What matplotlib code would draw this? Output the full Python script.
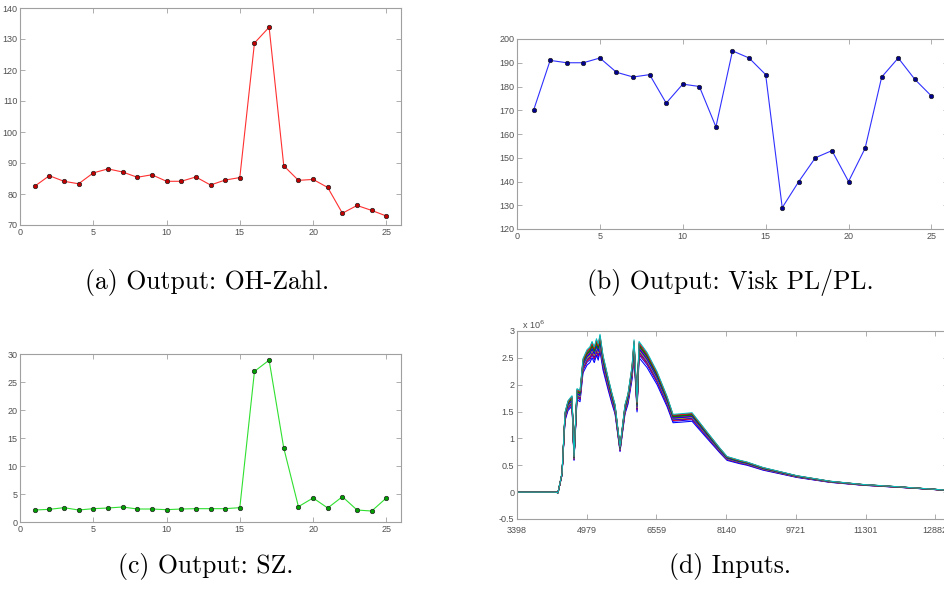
import matplotlib
matplotlib.use("Agg")
import matplotlib.pyplot as plt
import numpy as np

# --- quality outputs per sample (25 samples) ---
sample = np.arange(1, 26)

oh_zahl = [82.5, 85.9, 84.1, 83.3, 86.8, 88.1, 87.1, 85.4, 86.2, 84.1,
           84.1, 85.5, 82.9, 84.5, 85.3, 128.7, 133.8, 89.1, 84.4, 84.7,
           82.1, 73.8, 76.3, 74.7, 72.9]

visk = [170, 191, 190, 190, 192, 186, 184, 185, 173, 181,
        180, 163, 195, 192, 185, 129, 140, 150, 153, 140,
        154, 184, 192, 183, 176]

sz = [2.14, 2.26, 2.56, 2.14, 2.38, 2.5, 2.68, 2.32, 2.32, 2.2,
      2.32, 2.38, 2.38, 2.38, 2.56, 26.9, 28.9, 13.2, 2.74, 4.29,
      2.5, 4.52, 2.14, 1.96, 4.29]

# --- input spectra: mean profile (x 10^6) and per-sample gain ---
wavenumber = [3398, 4260, 4328, 4419, 4487, 4555, 4645, 4691, 4759, 4827,
              4895, 4986, 5050, 5100, 5150, 5200, 5240, 5280, 5348, 5462,
              5553, 5621, 5734, 5847, 5915, 6006, 6052, 6120, 6165, 6346,
              6573, 6800, 6936, 7095, 7367, 7707, 8002, 8161, 8456, 8614,
              8977, 9748, 10497, 11245, 12016, 13170]
intensity = [0.0, 0.0, -0.01, 0.35, 1.46, 1.67, 1.76, 0.65, 1.89, 1.85,
             2.44, 2.6, 2.65, 2.75, 2.65, 2.8, 2.7, 2.88, 2.5, 2.1,
             1.8, 1.6, 0.83, 1.6, 1.8, 2.3, 2.78, 1.64, 2.75, 2.55,
             2.2, 1.75, 1.42, 1.43, 1.45, 1.1, 0.8, 0.65, 0.58, 0.55,
             0.45, 0.3, 0.2, 0.14, 0.1, 0.035]
sample_gain = [0.91, 0.97, 0.95, 0.99, 0.96, 0.98, 0.97, 0.93, 0.99, 0.94,
               1.0, 0.98, 0.96, 0.98, 0.95, 0.99, 0.97, 1.01, 0.98, 0.96,
               1.0, 0.97, 0.99, 1.01, 1.02]
spec_ticks = [3398, 4979, 6559, 8140, 9721, 11301, 12882]

# old MATLAB colour order
matlab_colors = [(0, 0, 1), (0, 0.5, 0), (1, 0, 0), (0, 0.75, 0.75),
                 (0.75, 0, 0.75), (0.75, 0.75, 0), (0.25, 0.25, 0.25)]

W, H = 945, 595
frame_col = "#a0a0a0"
tick_col = "#505050"


def px_axes(fig, left, top, right, bottom):
    return fig.add_axes([left / W, 1 - bottom / H, (right - left) / W, (bottom - top) / H])


def matlab_style(ax):
    for s in ax.spines.values():
        s.set_color(frame_col)
        s.set_linewidth(0.8)
    ax.tick_params(direction="in", length=3.5, width=0.6, color=frame_col,
                   labelsize=6.5, labelcolor=tick_col, top=True, right=True, pad=2)
    for lab in ax.get_xticklabels() + ax.get_yticklabels():
        lab.set_family("Liberation Sans")


def series_panel(ax, y, line_col, mark_col, ylim, yticks):
    ax.plot(sample, y, "-", color=line_col, lw=0.8, zorder=2)
    ax.plot(sample, y, "o", ms=3.2, mfc=mark_col, mec="#202020", mew=0.5, zorder=3)
    ax.set_xlim(0, 26)
    ax.set_ylim(*ylim)
    ax.set_xticks([0, 5, 10, 15, 20, 25])
    ax.set_yticks(yticks)
    matlab_style(ax)


fig = plt.figure(figsize=(W / 100, H / 100), dpi=100)

ax_a = px_axes(fig, 20, 8, 401, 225)
series_panel(ax_a, oh_zahl, "#ff3030", "#c00000", (70, 140), range(70, 141, 10))

ax_b = px_axes(fig, 517, 39, 948, 229)
series_panel(ax_b, visk, "#3030ff", "#000090", (120, 200), range(120, 201, 10))

ax_c = px_axes(fig, 20, 354, 401, 522)
series_panel(ax_c, sz, "#30e030", "#00a000", (0, 30), range(0, 31, 5))

ax_d = px_axes(fig, 517, 331, 948, 519)
for i, g in enumerate(sample_gain):
    ax_d.plot(wavenumber, np.array(intensity) * g, color=matlab_colors[i % 7], lw=0.75)
ax_d.set_xlim(3398, 13170)
ax_d.set_ylim(-0.5, 3)
ax_d.set_xticks(spec_ticks)
ax_d.set_yticks([-0.5, 0, 0.5, 1, 1.5, 2, 2.5, 3])
ax_d.set_yticklabels(["-0.5", "0", "0.5", "1", "1.5", "2", "2.5", "3"])
matlab_style(ax_d)
ax_d.tick_params(axis="x", pad=5)
ax_d.text(0.012, 1.0, r"x 10$^6$", transform=ax_d.transAxes, fontsize=6.5,
          color=tick_col, family="Liberation Sans", ha="left", va="bottom")

captions = [("(a) Output: OH-Zahl.", 207, 283),
            ("(b) Output: Visk PL/PL.", 730, 283),
            ("(c) Output: SZ.", 206, 567),
            ("(d) Inputs.", 730, 567)]
for txt, cx, cy in captions:
    fig.text(cx / W, 1 - cy / H, txt, family="cmr10", fontsize=18.5,
             ha="center", va="center", color="black")

fig.savefig("out.png", dpi=100)
